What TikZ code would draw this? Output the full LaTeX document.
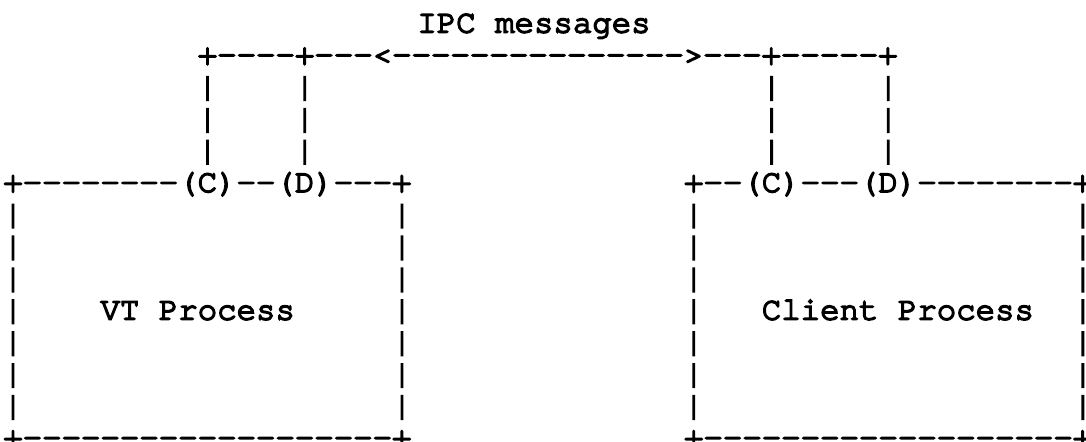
\documentclass[tikz,border=0pt]{standalone}
\usepackage{fontspec}
\setmonofont[RawFeature={embolden=5}]{TeX Gyre Cursor}
\tikzset{
  ascii/.style={inner sep=0pt, outer sep=0pt, anchor=base west, text=black,
    font=\fontsize{16.2pt}{16.2pt}\selectfont\ttfamily},
  asciic/.style={ascii, anchor=base}
}
% column c left edge: 3.28 + 19.45 c ; row r baseline: 32.5 + 31.9 r  (units: px)
\begin{document}
\begin{tikzpicture}[x=0.5pt,y=-0.5pt]
  \useasboundingbox[fill=white] (0,0) rectangle (1086,442);
  \clip (0,0) rectangle (1086,442);
  % row 0
  \node[asciic] (ipc) at (534,32.5) {IPC messages};
  % row 1
  \node[ascii] (ipcline) at ({3.28+19.45*10},{32.5+31.9*1}) {+----+---<--------------->---+-----+};
  % rows 2-4
  \foreach \r in {2,3,4}{
    \foreach \c/\n in {10/a,15/b,39/c,45/d}{
      \node[ascii] (up\n\r) at ({3.28+19.45*\c},{32.5+31.9*\r}) {|};
    }
  }
  % row 5
  \node[ascii] (vttop) at ({3.28+19.45*0},{32.5+31.9*5}) {+--------(C)--(D)---+};
  \node[ascii] (cltop) at ({3.28+19.45*35},{32.5+31.9*5}) {+--(C)---(D)--------+};
  % rows 6-12 sides
  \foreach \r in {6,7,8,9,10,11,12}{
    \foreach \c/\n in {0/a,20/b,35/c,55/d}{
      \node[ascii] (side\n\r) at ({3.28+19.45*\c},{32.5+31.9*\r}) {|};
    }
  }
  % row 9 labels
  \node[ascii] (vt) at ({3.28+19.45*5},{32.5+31.9*9}) {VT Process};
  \node[ascii] (client) at ({3.28+19.45*39},{32.5+31.9*9}) {Client Process};
  % row 13
  \node[ascii] (vtbot) at ({3.28+19.45*0},{32.5+31.9*13}) {+-------------------+};
  \node[ascii] (clbot) at ({3.28+19.45*35},{32.5+31.9*13}) {+-------------------+};
\end{tikzpicture}
\end{document}
